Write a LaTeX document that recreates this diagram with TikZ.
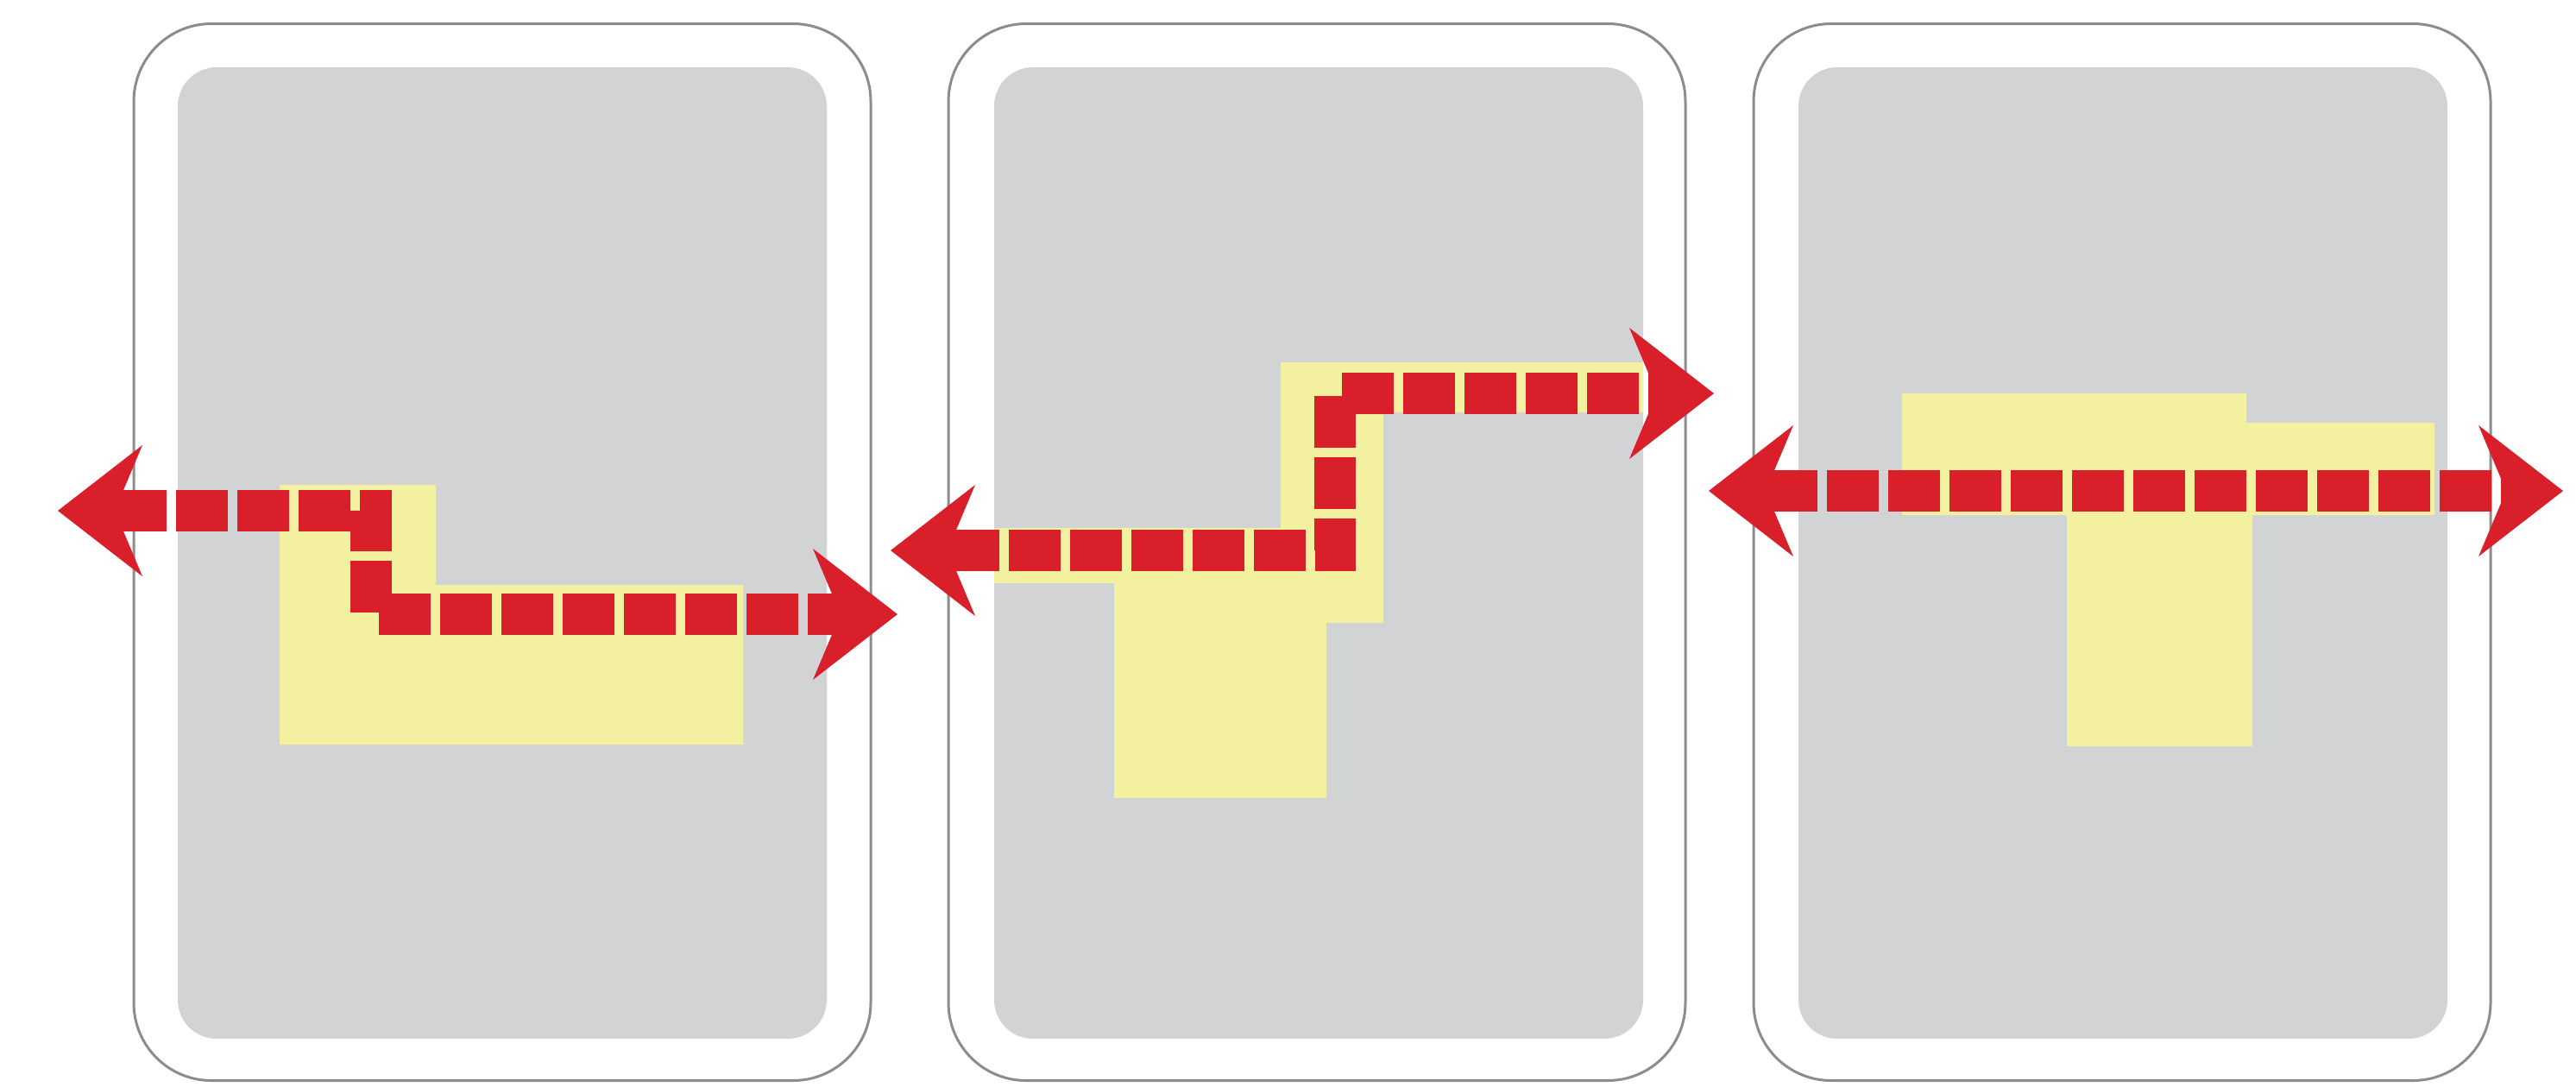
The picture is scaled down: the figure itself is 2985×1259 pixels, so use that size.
\documentclass[tikz,border=0pt]{standalone}
\usetikzlibrary{arrows.meta}
\definecolor{cardgray}{HTML}{8C8C8C}
\definecolor{panelgray}{HTML}{D1D3D4}
\definecolor{hiliteyellow}{HTML}{F3F1A0}
\definecolor{routered}{HTML}{D9202A}
\begin{document}
\begin{tikzpicture}[x=0.1mm,y=-0.1mm,
  card/.style={draw=cardgray,line width=0.85pt,fill=white,rounded corners=9mm,minimum width=85.4mm,minimum height=122.5mm,inner sep=0pt},
  panel/.style={fill=panelgray,rounded corners=4.5mm,minimum width=75.2mm,minimum height=112.6mm,inner sep=0pt},
  hilite/.style={fill=hiliteyellow},
  route/.style={routered,line width=4.8mm,dash pattern=on 6mm off 1.1mm,
    arrows={Stealth[length=9.8mm,width=15.2mm,inset=3.2mm,line width=0pt]-Stealth[length=9.8mm,width=15.2mm,inset=3.2mm,line width=0pt]}}]
  \useasboundingbox (0,0) rectangle (2985,1259);
  \node[card] (card1) at (582,640) {};
  \node[card] (card2) at (1526,640) {};
  \node[card] (card3) at (2459,640) {};
  \node[panel] (panel1) at (582,641) {};
  \node[panel] (panel2) at (1528,641) {};
  \node[panel] (panel3) at (2460,641) {};
  \fill[hilite] (324,562) -- (505,562) -- (505,678) -- (861,678) -- (861,863) -- (324,863) -- cycle;
  \fill[hilite] (1484,420) rectangle (1904,478);
  \fill[hilite] (1484,420) rectangle (1603,722);
  \fill[hilite] (1152,612) rectangle (1603,676);
  \fill[hilite] (1291,676) rectangle (1537,925);
  \fill[hilite] (2204,456) -- (2603,456) -- (2603,490) -- (2821,490) -- (2821,597) -- (2610,597) -- (2610,865) -- (2395,865) -- (2395,597) -- (2204,597) -- cycle;
  \coordinate (w1) at (67,592);
  \coordinate (k1) at (430,592);
  \coordinate (e1) at (1040,712);
  \coordinate (w2) at (1032,638);
  \coordinate (k2) at (1547,638);
  \coordinate (e2) at (1986,456);
  \coordinate (w3) at (1980,569);
  \coordinate (e3) at (2970,569);
  \draw[route] (w1) -- (k1) |- (e1);
  \draw[route] (w2) -- (k2) |- (e2);
  \draw[route] (w3) -- (e3);
\end{tikzpicture}
\end{document}
